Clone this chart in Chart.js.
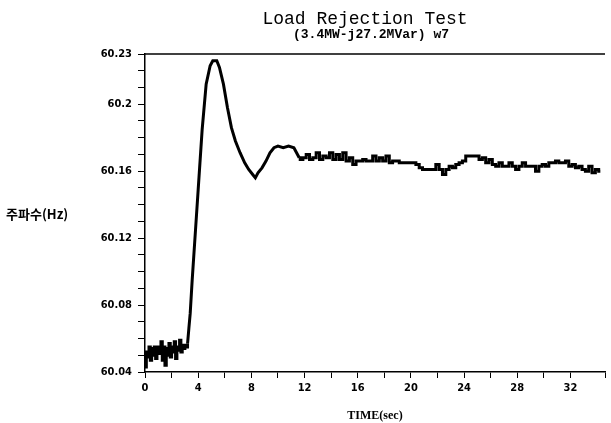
<!DOCTYPE html>
<html>
<head>
<meta charset="utf-8">
<script src="https://cdn.jsdelivr.net/npm/chart.js@4"></script>
<style>
  html, body { margin: 0; padding: 0; background: #fff; }
  canvas { display: block; }
</style>
</head>
<body>
<canvas id="chart" width="611" height="423"></canvas>
<script>
// time axis (sec) and frequency (Hz)
const timeSec = [
  0, 0.1, 0.2, 0.3, 0.4, 0.5, 0.6, 0.7, 0.8, 0.9, 1.0, 1.1, 1.2, 1.3, 1.4, 1.5, 1.6,
  1.7, 1.8, 1.9, 2.0, 2.1, 2.2, 2.3, 2.4, 2.5, 2.6, 2.7, 2.8, 2.9, 3.0, 3.1, 3.2,
  3.3, 3.4, 3.55, 3.8, 4.0, 4.3, 4.6, 4.9, 5.1, 5.4, 5.6, 5.9, 6.2, 6.5, 6.8, 7.15,
  7.5, 7.8, 8.1, 8.3, 8.5, 8.8, 9.1, 9.4, 9.7, 10.0, 10.4, 10.8, 11.2, 11.4, 11.6,
  11.75, 12.0, 12.25, 12.5, 12.75, 13.0, 13.25, 13.5, 13.75, 14.0, 14.25, 14.5, 14.75,
  15.0, 15.25, 15.5, 15.75, 16.0, 16.25, 16.5, 16.75, 17.0, 17.25, 17.5, 17.75, 18.0,
  18.25, 18.5, 18.75, 19.0, 19.25, 19.5, 19.75, 20.0, 20.25, 20.5, 20.75, 21.0, 21.25,
  21.5, 21.75, 22.0, 22.25, 22.5, 22.75, 23.0, 23.25, 23.5, 23.75, 24.0, 24.25, 24.5,
  24.75, 25.0, 25.25, 25.5, 25.75, 26.0, 26.25, 26.5, 26.75, 27.0, 27.25, 27.5, 27.75,
  28.0, 28.25, 28.5, 28.75, 29.0, 29.25, 29.5, 29.75, 30.0, 30.25, 30.5, 30.75, 31.0,
  31.25, 31.5, 31.75, 32.0, 32.25, 32.5, 32.75, 33.0, 33.25, 33.5, 33.75, 34.0, 34.25
];
const freqHz = [
  60.043, 60.052, 60.049, 60.055, 60.047, 60.054, 60.050, 60.055, 60.048, 60.053, 60.055,
  60.051, 60.058, 60.047, 60.055, 60.044, 60.054, 60.050, 60.057, 60.049, 60.055, 60.052,
  60.058, 60.048, 60.055, 60.053, 60.059, 60.052, 60.056, 60.054, 60.056, 60.055, 60.057,
  60.066, 60.075, 60.095, 60.125, 60.149, 60.185, 60.212, 60.223, 60.226, 60.226, 60.222,
  60.212, 60.198, 60.186, 60.178, 60.171, 60.165, 60.161, 60.158, 60.156, 60.159, 60.162,
  60.166, 60.171, 60.174, 60.175, 60.174, 60.175, 60.174, 60.171, 60.168,
  60.167, 60.168, 60.170, 60.167, 60.168, 60.171, 60.167, 60.169, 60.168, 60.171, 60.167,
  60.170, 60.167, 60.171, 60.166, 60.168, 60.164, 60.166, 60.166, 60.167, 60.166, 60.166,
  60.169, 60.166, 60.168, 60.166, 60.169, 60.165, 60.166, 60.166, 60.165, 60.165, 60.165,
  60.165, 60.165, 60.164, 60.162, 60.161, 60.161, 60.161, 60.161, 60.164, 60.161, 60.158,
  60.161, 60.163, 60.162, 60.164, 60.165, 60.166, 60.169, 60.169, 60.169, 60.169, 60.167,
  60.168, 60.165, 60.167, 60.164, 60.163, 60.165, 60.163, 60.163, 60.165, 60.163, 60.161,
  60.163, 60.165, 60.163, 60.163, 60.163, 60.160, 60.163, 60.164, 60.163, 60.165, 60.165,
  60.166, 60.165, 60.165, 60.166, 60.163, 60.164, 60.162, 60.163, 60.161, 60.160, 60.163,
  60.159, 60.161, 60.160
];
const yTickLabels = [60.04, 60.08, 60.12, 60.16, 60.2, 60.23];
const xTickLabels = [0, 4, 8, 12, 16, 20, 24, 28, 32];

const titleText = 'Load Rejection Test';
const subtitleText = '(3.4MW-j27.2MVar) w7';
const yLabel = '주파수(Hz)';
const xLabel = 'TIME(sec)';

// the recorder output is quantised before the step and after it settles
const riseStart = 32;   // index of t = 3.2 s
const settleStart = 63; // index of t = 11.6 s

const points = timeSec.map((t, i) => ({ x: t, y: freqHz[i] }));

const tickFont = { family: "'Liberation Sans Narrow', 'DejaVu Sans Condensed', sans-serif", size: 11, weight: 'bold' };

function trace(data, stepped) {
  return {
    data: data,
    borderColor: '#000',
    borderWidth: 3,
    pointRadius: 0,
    tension: 0,
    stepped: stepped,
    fill: false
  };
}

// titles, y label and the top frame line
const extras = {
  id: 'extras',
  afterDraw(chart) {
    const { ctx, chartArea } = chart;
    ctx.save();
    ctx.fillStyle = '#000';
    ctx.textAlign = 'center';
    ctx.textBaseline = 'middle';
    ctx.font = "18px 'Liberation Mono', monospace";
    ctx.fillText(titleText, 365, 19);
    ctx.font = "bold 13px 'Liberation Mono', monospace";
    ctx.fillText(subtitleText, 371, 35);
    ctx.textAlign = 'left';
    ctx.font = "bold 13px 'Noto Sans CJK KR', sans-serif";
    ctx.fillText(yLabel, 6, 214);
    ctx.strokeStyle = '#000';
    ctx.lineWidth = 1.5;
    ctx.beginPath();
    ctx.moveTo(chartArea.left, chartArea.top);
    ctx.lineTo(chartArea.right, chartArea.top);
    ctx.stroke();
    ctx.restore();
  }
};

new Chart(document.getElementById('chart'), {
  type: 'line',
  data: {
    datasets: [
      trace(points.slice(0, riseStart + 1), 'before'),
      trace(points.slice(riseStart, settleStart + 1), false),
      trace(points.slice(settleStart), 'middle')
    ]
  },
  options: {
    responsive: false,
    animation: false,
    layout: { padding: { top: 54, right: 6, left: 0, bottom: 0 } },
    plugins: { legend: { display: false }, tooltip: { enabled: false } },
    scales: {
      x: {
        type: 'linear',
        min: 0,
        max: 34.6,
        afterFit: (s) => { s.height = 51; },
        border: { color: '#000', width: 1.5 },
        grid: { drawOnChartArea: false, color: '#000', tickLength: 6 },
        ticks: {
          stepSize: 2,
          autoSkip: false,
          maxRotation: 0,
          color: '#000',
          font: tickFont,
          padding: 4,
          callback: (v) => xTickLabels.includes(v) ? String(v) : ''
        },
        title: {
          display: true,
          text: xLabel,
          color: '#000',
          font: { family: "'Liberation Serif', serif", size: 12, weight: 'bold' },
          padding: { top: 0, bottom: 0 }
        }
      },
      y: {
        min: 60.04,
        max: 60.23,
        afterFit: (s) => { s.width = 145; },
        afterBuildTicks: (s) => {
          const ticks = [];
          for (let k = 4; k <= 23; k++) ticks.push({ value: 60 + k / 100 });
          s.ticks = ticks;
        },
        border: { color: '#000', width: 1.5 },
        grid: { drawOnChartArea: false, color: '#000', tickLength: 7 },
        ticks: {
          autoSkip: false,
          color: '#000',
          font: tickFont,
          padding: 6,
          callback: (v) => {
            const r = Math.round(v * 100) / 100;
            return yTickLabels.includes(r) ? String(r) : '';
          }
        }
      }
    }
  },
  plugins: [extras]
});
</script>
</body>
</html>
